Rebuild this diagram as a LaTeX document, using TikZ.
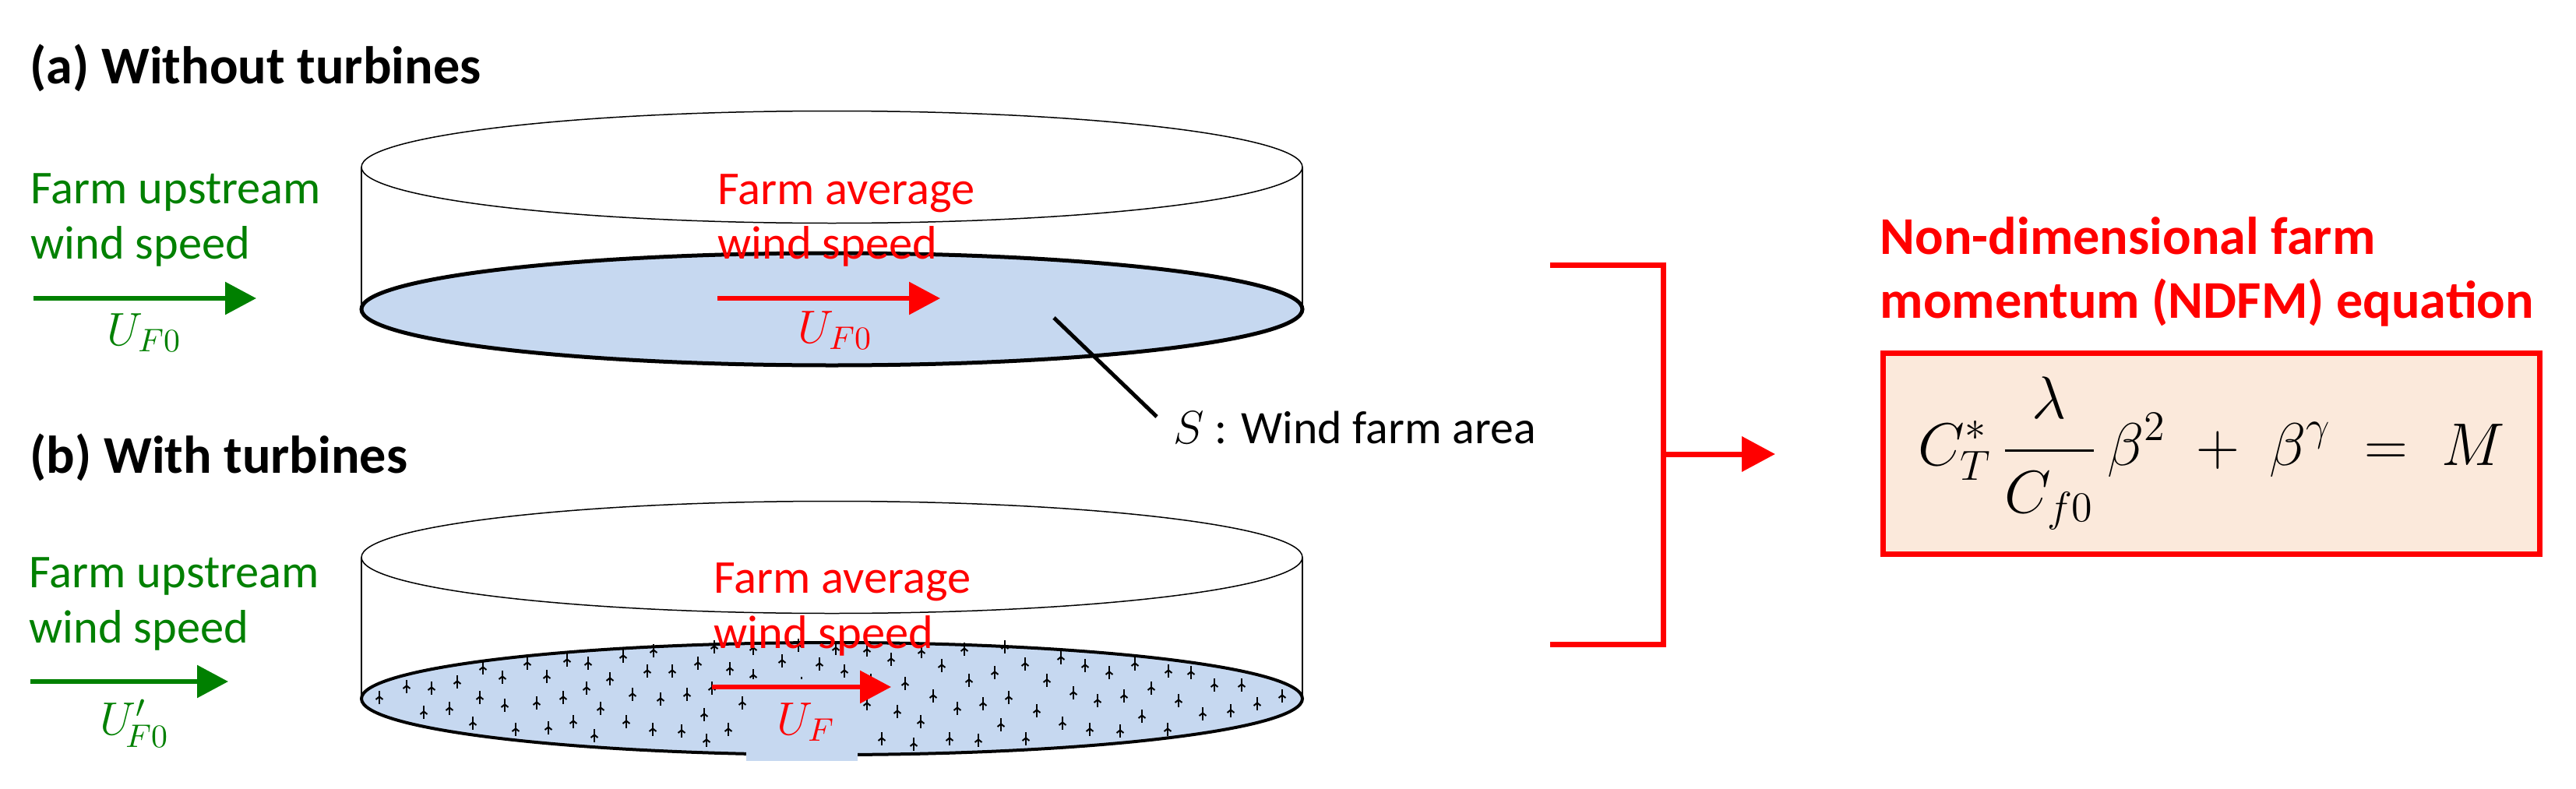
\documentclass[tikz,border=0pt]{standalone}
\usepackage{fix-cm}
\usepackage{amsmath}
\usepackage[no-math]{fontspec}
\setmainfont{Carlito}
\usepackage{tikz}
\usetikzlibrary{arrows.meta, positioning, calc}

\definecolor{farmblue}{HTML}{C6D8F0}
\definecolor{eqfill}{HTML}{FBE9DB}
\definecolor{windgreen}{HTML}{008000}

\begin{document}
\begin{tikzpicture}[
    base/.style={inner sep=0pt, anchor=base west},
    head/.style={base, font=\fontsize{19.4}{24}\selectfont\bfseries}, % titles of the panels
    greentxt/.style={base, windgreen, font=\fontsize{17.2}{22}\selectfont},
    redtxt/.style={base, red, font=\fontsize{17.2}{22}\selectfont},
    redhead/.style={base, red, font=\fontsize{19.4}{24}\selectfont\bfseries},
    sym/.style={base, font=\fontsize{17}{20}\selectfont},
    wall/.style={black, line width=0.015cm}, % thin outline of the volume
    tipwind/.style={-{Triangle[width=0.41cm, length=0.4cm]}, line width=0.06cm},
    bracket/.style={red, line width=0.07cm},
    turbine/.style={black, line width=0.02cm},
    eqbox/.style={draw=red, fill=eqfill, line width=0.07cm, minimum width=8.43cm, minimum height=2.58cm, inner sep=0pt}
]
    \useasboundingbox (0, 0) rectangle (33.07, 10.12);

    % 1. volumes: top ellipse, walls, farm area
    \foreach \yt/\yb/\lw in {7.975/6.15/0.05, 2.965/1.15/0.04} {
        \draw[wall] (10.68, \yt) ellipse (6.04 and 0.72);
        \draw[wall] (4.64, \yt) -- (4.64, \yb);
        \draw[wall] (16.72, \yt) -- (16.72, \yb);
        \draw[black, fill=farmblue, line width=\lw cm] (10.68, \yb) ellipse (6.04 and 0.72);
    }

    % 2. turbines of panel (b)
    \foreach \x/\y in {4.87/1.17, 5.22/1.31, 5.54/1.29, 5.87/1.37, 6.20/1.55, 6.45/1.43, 6.77/1.61,
        7.28/1.65, 7.55/1.61, 8.00/1.70, 8.39/1.77, 8.31/1.51, 8.63/1.51, 7.02/1.44, 7.83/1.41,
        7.53/1.29, 8.12/1.21, 8.48/1.15, 6.16/1.17, 6.48/1.07, 6.89/1.10, 7.23/1.17, 5.44/0.98,
        5.77/1.03, 7.71/1.03, 6.07/0.84, 6.62/0.76, 7.04/0.78, 7.36/0.86, 7.63/0.68, 8.04/0.86,
        8.38/0.76, 8.75/0.74, 9.17/1.82, 9.67/1.80, 10.25/1.84, 10.73/1.80, 11.13/1.78, 11.83/1.76,
        12.38/1.79, 8.96/1.61, 10.04/1.64, 10.52/1.60, 11.44/1.66, 12.09/1.58, 9.37/1.54, 10.84/1.51,
        12.77/1.49, 9.67/1.45, 12.44/1.39, 11.62/1.35, 9.14/1.29, 8.82/1.21, 11.98/1.19, 9.53/1.10,
        11.13/1.09, 12.62/1.09, 12.29/1.03, 11.52/0.99, 9.04/0.95, 11.82/0.86, 9.35/0.76, 11.32/0.64,
        12.19/0.64, 12.56/0.62, 11.73/0.57, 9.07/0.62, 10.29/1.35, 11.18/1.39, 12.90/1.82, 13.62/1.68,
        13.16/1.60, 13.93/1.58, 14.24/1.49, 14.57/1.60, 15.00/1.51, 15.29/1.49, 13.44/1.39, 15.59/1.33,
        15.94/1.33, 14.78/1.29, 13.78/1.23, 16.46/1.19, 12.95/1.17, 14.43/1.19, 14.09/1.13, 15.13/1.13,
        16.14/1.09, 13.31/1.00, 15.80/1.00, 15.44/0.96, 14.66/0.93, 13.64/0.84, 12.85/0.82, 13.99/0.76,
        14.38/0.74, 14.99/0.76, 13.17/0.64} {
        \draw[turbine] (\x, \y-0.085) -- (\x, \y+0.085);
        \draw[turbine] (\x-0.045, \y-0.03) -- (\x, \y+0.005) -- (\x+0.045, \y-0.03);
    }
    % box behind U_F, runs past the rim
    \fill[farmblue] (9.58, 1.40) rectangle (11.01, 0.35);

    % 3. panel (a)
    \node[head] (titlea) at (0.38, 9.05) {(a) Without turbines};
    \node[greentxt] (upa) at (0.39, 7.51) {Farm upstream};
    \node[greentxt] (speeda) at (0.39, 6.80) {wind speed};
    \coordinate (ga0) at (0.43, 6.29);
    \coordinate (ga1) at (3.29, 6.29);
    \draw[tipwind, windgreen] (ga0) -- (ga1);
    \node[sym, windgreen] (u0a) at (1.37, 5.69) {$U_{F0}$};
    \node[redtxt] (ava) at (9.21, 7.50) {Farm average};
    \node[redtxt] (wsa) at (9.21, 6.80) {wind speed};
    \coordinate (ra0) at (9.21, 6.29);
    \coordinate (ra1) at (12.07, 6.29);
    \draw[tipwind, red] (ra0) -- (ra1);
    \node[sym, red] (ufa) at (10.24, 5.72) {$U_{F0}$};

    % area label
    \coordinate (leada) at (13.53, 6.04);
    \coordinate (leadb) at (14.85, 4.77);
    \draw[black, line width=0.05cm] (leada) -- (leadb);
    \node[base, font=\fontsize{17}{20}\selectfont] (area) at (15.06, 4.43) {$S$ : Wind farm area};

    % 4. panel (b)
    \node[head] (titleb) at (0.38, 4.05) {(b) With turbines};
    \node[greentxt] (upb) at (0.37, 2.58) {Farm upstream};
    \node[greentxt] (speedb) at (0.37, 1.87) {wind speed};
    \coordinate (gb0) at (0.39, 1.37);
    \coordinate (gb1) at (2.93, 1.37);
    \draw[tipwind, windgreen] (gb0) -- (gb1);
    \node[sym, windgreen] (u0b) at (1.28, 0.69) {$U'_{\!F0}$};
    \node[redtxt] (avb) at (9.16, 2.51) {Farm average};
    \node[redtxt] (wsb) at (9.16, 1.80) {wind speed};
    \coordinate (rb0) at (9.14, 1.30);
    \coordinate (rb1) at (11.44, 1.30);
    \draw[tipwind, red] (rb0) -- (rb1);
    \node[sym, red] (ufb) at (9.97, 0.69) {$U_F$};

    % 5. bracket and equation
    \coordinate (brtop) at (19.90, 6.72);
    \coordinate (brbot) at (19.90, 1.85);
    \coordinate (brmid) at (21.35, 4.29);
    \coordinate (brend) at (22.79, 4.29);
    \draw[bracket] (brtop) -| (brmid) |- (brbot);
    \draw[-{Triangle[width=0.44cm, length=0.43cm]}, red, line width=0.07cm] (brmid) -- (brend);

    \node[redhead] (eqa) at (24.13, 6.86) {Non-dimensional farm};
    \node[redhead] (eqb) at (24.13, 6.04) {momentum (NDFM) equation};
    \node[eqbox] (eq) at (28.39, 4.30) {\fontsize{22}{27}\selectfont
        $\displaystyle C_T^{*}\,\frac{\rule[-0.4em]{0pt}{0.9em}\lambda}{\rule{0pt}{0.9em}C_{f0}}\,\beta^{2}\;+\;\beta^{\gamma}\;=\;M$};
\end{tikzpicture}
\end{document}
